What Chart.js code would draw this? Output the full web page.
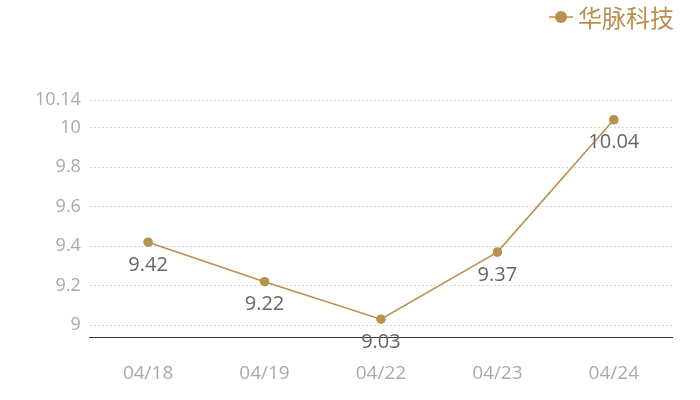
<!DOCTYPE html>
<html><head><meta charset="utf-8">
<script src="https://cdn.jsdelivr.net/npm/chart.js@4/dist/chart.umd.min.js"></script>
<style>html,body{margin:0;padding:0;background:#fff}#wrap{width:700px;height:400px}</style>
</head><body><div id="wrap"><canvas id="c" width="700" height="400"></canvas></div>
<script>
const categories = ["04/18","04/19","04/22","04/23","04/24"];
const seriesName = "华脉科技";
const values = [9.42, 9.22, 9.03, 9.37, 10.04];
const yTicks = [9, 9.2, 9.4, 9.6, 9.8, 10, 10.14];
const yMin = 8.94, yMax = 10.14;
const gold = "#b8914e";

const labelPlugin = {
  id: 'lbl',
  afterDatasetsDraw(chart) {
    const ctx = chart.ctx;
    const meta = chart.getDatasetMeta(0);
    ctx.save();
    ctx.fillStyle = '#666';
    ctx.font = '20px "Open Sans", "Noto Sans", sans-serif';
    ctx.textAlign = 'center';
    ctx.textBaseline = 'middle';
    meta.data.forEach((p, i) => {
      ctx.fillText(String(values[i].toFixed(2)), p.x, p.y + 23);
    });
    // legend
    const lx = 549, ly = 17;
    ctx.strokeStyle = gold; ctx.lineWidth = 1.5;
    ctx.beginPath(); ctx.moveTo(lx, ly); ctx.lineTo(lx + 24, ly); ctx.stroke();
    ctx.fillStyle = gold;
    ctx.beginPath(); ctx.arc(lx + 12, ly, 6, 0, Math.PI * 2); ctx.fill();
    ctx.font = '24px "Noto Sans CJK SC", sans-serif';
    ctx.textAlign = 'left';
    ctx.fillText(seriesName, lx + 29, ly + 1);
    ctx.restore();
  }
};

new Chart(document.getElementById('c'), {
  type: 'line',
  data: {
    labels: categories,
    datasets: [{
      label: seriesName,
      data: values,
      borderColor: gold,
      backgroundColor: gold,
      borderWidth: 1.6,
      pointRadius: 4.8,
      pointBackgroundColor: gold,
      pointBorderColor: gold,
      pointBorderWidth: 0,
      tension: 0
    }]
  },
  options: {
    responsive: false,
    animation: false,
    events: [],
    layout: { padding: { top: 100, right: 28, left: 26, bottom: 0 } },
    plugins: { legend: { display: false }, tooltip: { enabled: false } },
    scales: {
      x: {
        offset: true,
        afterFit(axis) { axis.height = 63; },
        grid: { display: false, drawTicks: false },
        border: { display: true, color: '#333', width: 1 },
        ticks: { color: '#aaa', font: { size: 19, family: '"Open Sans", sans-serif' }, padding: 25, maxRotation: 0 }
      },
      y: {
        min: yMin, max: yMax,
        afterBuildTicks(axis) { axis.ticks = yTicks.map(v => ({ value: v })); },
        grid: { color: '#d6d6d6', drawTicks: false, tickLength: 0 },
        border: { display: false, dash: [2, 2] },
        ticks: { color: '#aaa', font: { size: 18, family: '"Open Sans", sans-serif' }, padding: 9,
          callback: v => String(v) }
      }
    }
  },
  plugins: [labelPlugin]
});
</script></body></html>
